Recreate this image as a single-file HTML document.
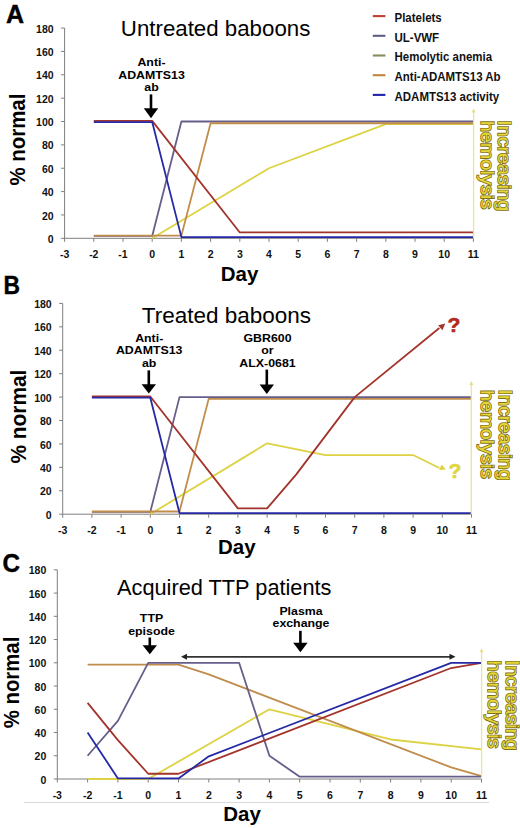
<!DOCTYPE html><html><head><meta charset="utf-8"><style>
html,body{margin:0;padding:0;background:#fff;width:520px;height:828px;overflow:hidden}
svg{display:block} text{font-family:"Liberation Sans", sans-serif}
.tk{font-size:10.5px;font-weight:700;fill:#111}
.ttl{font-size:22.8px;fill:#000}
.ann{font-size:12px;font-weight:700;fill:#000}
.lg{font-size:11.5px;font-weight:700;fill:#111}
.pl{font-size:25px;font-weight:700;fill:#000;stroke:#000;stroke-width:0.4}
.yl{font-size:21.5px;font-weight:700;fill:#000}
.dy{font-size:20.5px;font-weight:700;fill:#000}
.q{font-size:21px;font-weight:700;stroke-width:0.6;paint-order:stroke}
.hm{font-size:17.6px;font-weight:400;fill:#e6d738;stroke:#7f7119;stroke-width:1.6;paint-order:stroke}
</style></head><body>
<svg width="520" height="828" viewBox="0 0 520 828">
<line x1="64.60" y1="28.06" x2="64.60" y2="238.30" stroke="#7e7e7e" stroke-width="1"/>
<line x1="64.60" y1="238.30" x2="473.40" y2="238.30" stroke="#7e7e7e" stroke-width="1"/>
<line x1="61.10" y1="238.30" x2="64.60" y2="238.30" stroke="#7e7e7e" stroke-width="1"/>
<text x="53.60" y="242.90" text-anchor="end" class="tk">0</text>
<line x1="61.10" y1="214.94" x2="64.60" y2="214.94" stroke="#7e7e7e" stroke-width="1"/>
<text x="53.60" y="219.54" text-anchor="end" class="tk">20</text>
<line x1="61.10" y1="191.58" x2="64.60" y2="191.58" stroke="#7e7e7e" stroke-width="1"/>
<text x="53.60" y="196.18" text-anchor="end" class="tk">40</text>
<line x1="61.10" y1="168.22" x2="64.60" y2="168.22" stroke="#7e7e7e" stroke-width="1"/>
<text x="53.60" y="172.82" text-anchor="end" class="tk">60</text>
<line x1="61.10" y1="144.86" x2="64.60" y2="144.86" stroke="#7e7e7e" stroke-width="1"/>
<text x="53.60" y="149.46" text-anchor="end" class="tk">80</text>
<line x1="61.10" y1="121.50" x2="64.60" y2="121.50" stroke="#7e7e7e" stroke-width="1"/>
<text x="53.60" y="126.10" text-anchor="end" class="tk">100</text>
<line x1="61.10" y1="98.14" x2="64.60" y2="98.14" stroke="#7e7e7e" stroke-width="1"/>
<text x="53.60" y="102.74" text-anchor="end" class="tk">120</text>
<line x1="61.10" y1="74.78" x2="64.60" y2="74.78" stroke="#7e7e7e" stroke-width="1"/>
<text x="53.60" y="79.38" text-anchor="end" class="tk">140</text>
<line x1="61.10" y1="51.42" x2="64.60" y2="51.42" stroke="#7e7e7e" stroke-width="1"/>
<text x="53.60" y="56.02" text-anchor="end" class="tk">160</text>
<line x1="61.10" y1="28.06" x2="64.60" y2="28.06" stroke="#7e7e7e" stroke-width="1"/>
<text x="53.60" y="32.66" text-anchor="end" class="tk">180</text>
<line x1="64.60" y1="238.30" x2="64.60" y2="241.80" stroke="#7e7e7e" stroke-width="1"/>
<text x="64.60" y="257.80" text-anchor="middle" class="tk">-3</text>
<line x1="93.80" y1="238.30" x2="93.80" y2="241.80" stroke="#7e7e7e" stroke-width="1"/>
<text x="93.80" y="257.80" text-anchor="middle" class="tk">-2</text>
<line x1="123.00" y1="238.30" x2="123.00" y2="241.80" stroke="#7e7e7e" stroke-width="1"/>
<text x="123.00" y="257.80" text-anchor="middle" class="tk">-1</text>
<line x1="152.20" y1="238.30" x2="152.20" y2="241.80" stroke="#7e7e7e" stroke-width="1"/>
<text x="152.20" y="257.80" text-anchor="middle" class="tk">0</text>
<line x1="181.40" y1="238.30" x2="181.40" y2="241.80" stroke="#7e7e7e" stroke-width="1"/>
<text x="181.40" y="257.80" text-anchor="middle" class="tk">1</text>
<line x1="210.60" y1="238.30" x2="210.60" y2="241.80" stroke="#7e7e7e" stroke-width="1"/>
<text x="210.60" y="257.80" text-anchor="middle" class="tk">2</text>
<line x1="239.80" y1="238.30" x2="239.80" y2="241.80" stroke="#7e7e7e" stroke-width="1"/>
<text x="239.80" y="257.80" text-anchor="middle" class="tk">3</text>
<line x1="269.00" y1="238.30" x2="269.00" y2="241.80" stroke="#7e7e7e" stroke-width="1"/>
<text x="269.00" y="257.80" text-anchor="middle" class="tk">4</text>
<line x1="298.20" y1="238.30" x2="298.20" y2="241.80" stroke="#7e7e7e" stroke-width="1"/>
<text x="298.20" y="257.80" text-anchor="middle" class="tk">5</text>
<line x1="327.40" y1="238.30" x2="327.40" y2="241.80" stroke="#7e7e7e" stroke-width="1"/>
<text x="327.40" y="257.80" text-anchor="middle" class="tk">6</text>
<line x1="356.60" y1="238.30" x2="356.60" y2="241.80" stroke="#7e7e7e" stroke-width="1"/>
<text x="356.60" y="257.80" text-anchor="middle" class="tk">7</text>
<line x1="385.80" y1="238.30" x2="385.80" y2="241.80" stroke="#7e7e7e" stroke-width="1"/>
<text x="385.80" y="257.80" text-anchor="middle" class="tk">8</text>
<line x1="415.00" y1="238.30" x2="415.00" y2="241.80" stroke="#7e7e7e" stroke-width="1"/>
<text x="415.00" y="257.80" text-anchor="middle" class="tk">9</text>
<line x1="444.20" y1="238.30" x2="444.20" y2="241.80" stroke="#7e7e7e" stroke-width="1"/>
<text x="444.20" y="257.80" text-anchor="middle" class="tk">10</text>
<line x1="473.40" y1="238.30" x2="473.40" y2="241.80" stroke="#7e7e7e" stroke-width="1"/>
<text x="473.40" y="257.80" text-anchor="middle" class="tk">11</text>
<polyline points="152.20,238.30 269.00,168.22 385.80,124.07 473.40,124.07" fill="none" stroke="#dcd242" stroke-width="1.8" stroke-linejoin="round"/>
<polyline points="93.80,235.96 152.20,235.96 181.40,121.50 473.40,121.50" fill="none" stroke="#685e8a" stroke-width="1.8" stroke-linejoin="round"/>
<polyline points="93.80,235.61 181.40,235.61 210.60,123.25 473.40,123.25" fill="none" stroke="#c08c4c" stroke-width="1.8" stroke-linejoin="round"/>
<polyline points="93.80,120.92 152.20,120.92 239.80,232.46 473.40,232.46" fill="none" stroke="#a3342b" stroke-width="1.8" stroke-linejoin="round"/>
<polyline points="93.80,122.08 152.20,122.08 181.40,237.13 473.40,237.13" fill="none" stroke="#2529a6" stroke-width="1.8" stroke-linejoin="round"/>
<text x="6" y="23" class="pl">A</text>
<text x="120.8" y="36.3" class="ttl" textLength="189.5" lengthAdjust="spacingAndGlyphs">Untreated baboons</text>
<text transform="translate(25.3,185.6) rotate(-90)" class="yl" textLength="92" lengthAdjust="spacingAndGlyphs">% normal</text>
<text x="239.5" y="280.8" text-anchor="middle" class="dy">Day</text>
<text transform="translate(151.5,66.30) scale(1.03,0.9)" text-anchor="middle" class="ann">Anti-</text>
<text transform="translate(151.5,78.80) scale(1.03,0.9)" text-anchor="middle" class="ann">ADAMTS13</text>
<text transform="translate(151.5,91.30) scale(1.03,0.9)" text-anchor="middle" class="ann">ab</text>
<line x1="151.00" y1="94.40" x2="151.00" y2="109.30" stroke="#000" stroke-width="2.6"/>
<polygon points="143.80,108.30 158.20,108.30 151.00,118.30" fill="#000"/>
<line x1="372.8" y1="16.10" x2="385.4" y2="16.10" stroke="#c23e32" stroke-width="2.1"/>
<text transform="translate(394.5,22.00) scale(1,1.07)" class="lg">Platelets</text>
<line x1="372.8" y1="35.80" x2="385.4" y2="35.80" stroke="#5e5e84" stroke-width="2.1"/>
<text transform="translate(394.5,41.70) scale(1,1.07)" class="lg">UL-VWF</text>
<line x1="372.8" y1="55.50" x2="385.4" y2="55.50" stroke="#858e5e" stroke-width="2.1"/>
<text transform="translate(394.5,61.40) scale(1,1.07)" class="lg">Hemolytic anemia</text>
<line x1="372.8" y1="75.20" x2="385.4" y2="75.20" stroke="#c0843e" stroke-width="2.1"/>
<text transform="translate(394.5,81.10) scale(1,1.07)" class="lg">Anti-ADAMTS13 Ab</text>
<line x1="372.8" y1="94.90" x2="385.4" y2="94.90" stroke="#2224a8" stroke-width="2.1"/>
<text transform="translate(394.5,100.80) scale(1,1.07)" class="lg">ADAMTS13 activity</text>
<line x1="473.60" y1="111.50" x2="473.60" y2="238.30" stroke="#ece39a" stroke-width="1.3"/>
<polygon points="471.60,112.50 475.60,112.50 473.60,108.50" fill="#e6dd8a"/>
<text transform="translate(498.00,120.20) rotate(90)" class="hm" textLength="91" lengthAdjust="spacingAndGlyphs">Increasing</text>
<text transform="translate(481.20,120.70) rotate(90)" class="hm" textLength="88.6" lengthAdjust="spacingAndGlyphs">hemolysis</text>
<line x1="62.70" y1="303.42" x2="62.70" y2="514.20" stroke="#7e7e7e" stroke-width="1"/>
<line x1="62.70" y1="514.20" x2="471.50" y2="514.20" stroke="#7e7e7e" stroke-width="1"/>
<line x1="59.20" y1="514.20" x2="62.70" y2="514.20" stroke="#7e7e7e" stroke-width="1"/>
<text x="51.70" y="518.80" text-anchor="end" class="tk">0</text>
<line x1="59.20" y1="490.78" x2="62.70" y2="490.78" stroke="#7e7e7e" stroke-width="1"/>
<text x="51.70" y="495.38" text-anchor="end" class="tk">20</text>
<line x1="59.20" y1="467.36" x2="62.70" y2="467.36" stroke="#7e7e7e" stroke-width="1"/>
<text x="51.70" y="471.96" text-anchor="end" class="tk">40</text>
<line x1="59.20" y1="443.94" x2="62.70" y2="443.94" stroke="#7e7e7e" stroke-width="1"/>
<text x="51.70" y="448.54" text-anchor="end" class="tk">60</text>
<line x1="59.20" y1="420.52" x2="62.70" y2="420.52" stroke="#7e7e7e" stroke-width="1"/>
<text x="51.70" y="425.12" text-anchor="end" class="tk">80</text>
<line x1="59.20" y1="397.10" x2="62.70" y2="397.10" stroke="#7e7e7e" stroke-width="1"/>
<text x="51.70" y="401.70" text-anchor="end" class="tk">100</text>
<line x1="59.20" y1="373.68" x2="62.70" y2="373.68" stroke="#7e7e7e" stroke-width="1"/>
<text x="51.70" y="378.28" text-anchor="end" class="tk">120</text>
<line x1="59.20" y1="350.26" x2="62.70" y2="350.26" stroke="#7e7e7e" stroke-width="1"/>
<text x="51.70" y="354.86" text-anchor="end" class="tk">140</text>
<line x1="59.20" y1="326.84" x2="62.70" y2="326.84" stroke="#7e7e7e" stroke-width="1"/>
<text x="51.70" y="331.44" text-anchor="end" class="tk">160</text>
<line x1="59.20" y1="303.42" x2="62.70" y2="303.42" stroke="#7e7e7e" stroke-width="1"/>
<text x="51.70" y="308.02" text-anchor="end" class="tk">180</text>
<line x1="62.70" y1="514.20" x2="62.70" y2="517.70" stroke="#7e7e7e" stroke-width="1"/>
<text x="62.70" y="533.70" text-anchor="middle" class="tk">-3</text>
<line x1="91.90" y1="514.20" x2="91.90" y2="517.70" stroke="#7e7e7e" stroke-width="1"/>
<text x="91.90" y="533.70" text-anchor="middle" class="tk">-2</text>
<line x1="121.10" y1="514.20" x2="121.10" y2="517.70" stroke="#7e7e7e" stroke-width="1"/>
<text x="121.10" y="533.70" text-anchor="middle" class="tk">-1</text>
<line x1="150.30" y1="514.20" x2="150.30" y2="517.70" stroke="#7e7e7e" stroke-width="1"/>
<text x="150.30" y="533.70" text-anchor="middle" class="tk">0</text>
<line x1="179.50" y1="514.20" x2="179.50" y2="517.70" stroke="#7e7e7e" stroke-width="1"/>
<text x="179.50" y="533.70" text-anchor="middle" class="tk">1</text>
<line x1="208.70" y1="514.20" x2="208.70" y2="517.70" stroke="#7e7e7e" stroke-width="1"/>
<text x="208.70" y="533.70" text-anchor="middle" class="tk">2</text>
<line x1="237.90" y1="514.20" x2="237.90" y2="517.70" stroke="#7e7e7e" stroke-width="1"/>
<text x="237.90" y="533.70" text-anchor="middle" class="tk">3</text>
<line x1="267.10" y1="514.20" x2="267.10" y2="517.70" stroke="#7e7e7e" stroke-width="1"/>
<text x="267.10" y="533.70" text-anchor="middle" class="tk">4</text>
<line x1="296.30" y1="514.20" x2="296.30" y2="517.70" stroke="#7e7e7e" stroke-width="1"/>
<text x="296.30" y="533.70" text-anchor="middle" class="tk">5</text>
<line x1="325.50" y1="514.20" x2="325.50" y2="517.70" stroke="#7e7e7e" stroke-width="1"/>
<text x="325.50" y="533.70" text-anchor="middle" class="tk">6</text>
<line x1="354.70" y1="514.20" x2="354.70" y2="517.70" stroke="#7e7e7e" stroke-width="1"/>
<text x="354.70" y="533.70" text-anchor="middle" class="tk">7</text>
<line x1="383.90" y1="514.20" x2="383.90" y2="517.70" stroke="#7e7e7e" stroke-width="1"/>
<text x="383.90" y="533.70" text-anchor="middle" class="tk">8</text>
<line x1="413.10" y1="514.20" x2="413.10" y2="517.70" stroke="#7e7e7e" stroke-width="1"/>
<text x="413.10" y="533.70" text-anchor="middle" class="tk">9</text>
<line x1="442.30" y1="514.20" x2="442.30" y2="517.70" stroke="#7e7e7e" stroke-width="1"/>
<text x="442.30" y="533.70" text-anchor="middle" class="tk">10</text>
<line x1="471.50" y1="514.20" x2="471.50" y2="517.70" stroke="#7e7e7e" stroke-width="1"/>
<text x="471.50" y="533.70" text-anchor="middle" class="tk">11</text>
<polyline points="150.30,514.20 267.10,443.35 325.50,455.06 413.10,455.06 439.38,467.95" fill="none" stroke="#dcd242" stroke-width="1.8" stroke-linejoin="round"/>
<polyline points="91.90,511.86 150.30,511.86 179.50,397.10 471.50,397.10" fill="none" stroke="#685e8a" stroke-width="1.8" stroke-linejoin="round"/>
<polyline points="91.90,511.51 179.50,511.51 208.70,398.86 471.50,398.86" fill="none" stroke="#c08c4c" stroke-width="1.8" stroke-linejoin="round"/>
<polyline points="91.90,396.51 150.30,396.51 237.90,508.35 267.10,508.35 296.30,474.39 354.70,397.10 439.38,328.01" fill="none" stroke="#a3342b" stroke-width="1.8" stroke-linejoin="round"/>
<polyline points="91.90,397.69 150.30,397.69 179.50,513.03 471.50,513.03" fill="none" stroke="#2529a6" stroke-width="1.8" stroke-linejoin="round"/>
<text x="3.4" y="293.8" class="pl" textLength="16.5" lengthAdjust="spacingAndGlyphs">B</text>
<text x="141.8" y="322.6" class="ttl" textLength="169.2" lengthAdjust="spacingAndGlyphs">Treated baboons</text>
<text transform="translate(26.4,463.6) rotate(-90)" class="yl" textLength="94" lengthAdjust="spacingAndGlyphs">% normal</text>
<text x="236.8" y="553.6" text-anchor="middle" class="dy">Day</text>
<text transform="translate(149.2,341.70) scale(1.03,0.9)" text-anchor="middle" class="ann">Anti-</text>
<text transform="translate(149.2,354.30) scale(1.03,0.9)" text-anchor="middle" class="ann">ADAMTS13</text>
<text transform="translate(149.2,366.90) scale(1.03,0.9)" text-anchor="middle" class="ann">ab</text>
<line x1="148.80" y1="370.40" x2="148.80" y2="385.20" stroke="#000" stroke-width="2.6"/>
<polygon points="141.60,384.20 156.00,384.20 148.80,393.50" fill="#000"/>
<text transform="translate(267.5,341.70) scale(1.03,0.9)" text-anchor="middle" class="ann">GBR600</text>
<text transform="translate(267.5,354.40) scale(1.03,0.9)" text-anchor="middle" class="ann">or</text>
<text transform="translate(267.5,367.10) scale(1.03,0.9)" text-anchor="middle" class="ann">ALX-0681</text>
<line x1="266.80" y1="369.60" x2="266.80" y2="385.40" stroke="#000" stroke-width="2.6"/>
<polygon points="259.60,384.40 274.00,384.40 266.80,394.00" fill="#000"/>
<line x1="471.30" y1="384.00" x2="471.30" y2="514.20" stroke="#ece39a" stroke-width="1.3"/>
<polygon points="469.30,385.00 473.30,385.00 471.30,381.00" fill="#e6dd8a"/>
<text transform="translate(498.50,389.50) rotate(90)" class="hm" textLength="91" lengthAdjust="spacingAndGlyphs">Increasing</text>
<text transform="translate(480.50,390.00) rotate(90)" class="hm" textLength="88.6" lengthAdjust="spacingAndGlyphs">hemolysis</text>
<polygon points="445.30,323.60 442.33,330.26 438.17,325.13" fill="#a3342b"/>
<polygon points="445.80,469.60 439.10,469.90 441.54,464.42" fill="#dcd242"/>
<text x="447.6" y="331.8" class="q" fill="#b02a20" stroke="#b02a20">?</text>
<text x="448.4" y="477.6" class="q" fill="#e0d440" stroke="#e0d440">?</text>
<line x1="57.30" y1="569.84" x2="57.30" y2="779.00" stroke="#7e7e7e" stroke-width="1"/>
<line x1="57.30" y1="779.00" x2="481.50" y2="779.00" stroke="#7e7e7e" stroke-width="1"/>
<line x1="53.80" y1="779.00" x2="57.30" y2="779.00" stroke="#7e7e7e" stroke-width="1"/>
<text x="46.30" y="783.60" text-anchor="end" class="tk">0</text>
<line x1="53.80" y1="755.76" x2="57.30" y2="755.76" stroke="#7e7e7e" stroke-width="1"/>
<text x="46.30" y="760.36" text-anchor="end" class="tk">20</text>
<line x1="53.80" y1="732.52" x2="57.30" y2="732.52" stroke="#7e7e7e" stroke-width="1"/>
<text x="46.30" y="737.12" text-anchor="end" class="tk">40</text>
<line x1="53.80" y1="709.28" x2="57.30" y2="709.28" stroke="#7e7e7e" stroke-width="1"/>
<text x="46.30" y="713.88" text-anchor="end" class="tk">60</text>
<line x1="53.80" y1="686.04" x2="57.30" y2="686.04" stroke="#7e7e7e" stroke-width="1"/>
<text x="46.30" y="690.64" text-anchor="end" class="tk">80</text>
<line x1="53.80" y1="662.80" x2="57.30" y2="662.80" stroke="#7e7e7e" stroke-width="1"/>
<text x="46.30" y="667.40" text-anchor="end" class="tk">100</text>
<line x1="53.80" y1="639.56" x2="57.30" y2="639.56" stroke="#7e7e7e" stroke-width="1"/>
<text x="46.30" y="644.16" text-anchor="end" class="tk">120</text>
<line x1="53.80" y1="616.32" x2="57.30" y2="616.32" stroke="#7e7e7e" stroke-width="1"/>
<text x="46.30" y="620.92" text-anchor="end" class="tk">140</text>
<line x1="53.80" y1="593.08" x2="57.30" y2="593.08" stroke="#7e7e7e" stroke-width="1"/>
<text x="46.30" y="597.68" text-anchor="end" class="tk">160</text>
<line x1="53.80" y1="569.84" x2="57.30" y2="569.84" stroke="#7e7e7e" stroke-width="1"/>
<text x="46.30" y="574.44" text-anchor="end" class="tk">180</text>
<line x1="57.30" y1="779.00" x2="57.30" y2="782.50" stroke="#7e7e7e" stroke-width="1"/>
<text x="57.30" y="798.50" text-anchor="middle" class="tk">-3</text>
<line x1="87.60" y1="779.00" x2="87.60" y2="782.50" stroke="#7e7e7e" stroke-width="1"/>
<text x="87.60" y="798.50" text-anchor="middle" class="tk">-2</text>
<line x1="117.90" y1="779.00" x2="117.90" y2="782.50" stroke="#7e7e7e" stroke-width="1"/>
<text x="117.90" y="798.50" text-anchor="middle" class="tk">-1</text>
<line x1="148.20" y1="779.00" x2="148.20" y2="782.50" stroke="#7e7e7e" stroke-width="1"/>
<text x="148.20" y="798.50" text-anchor="middle" class="tk">0</text>
<line x1="178.50" y1="779.00" x2="178.50" y2="782.50" stroke="#7e7e7e" stroke-width="1"/>
<text x="178.50" y="798.50" text-anchor="middle" class="tk">1</text>
<line x1="208.80" y1="779.00" x2="208.80" y2="782.50" stroke="#7e7e7e" stroke-width="1"/>
<text x="208.80" y="798.50" text-anchor="middle" class="tk">2</text>
<line x1="239.10" y1="779.00" x2="239.10" y2="782.50" stroke="#7e7e7e" stroke-width="1"/>
<text x="239.10" y="798.50" text-anchor="middle" class="tk">3</text>
<line x1="269.40" y1="779.00" x2="269.40" y2="782.50" stroke="#7e7e7e" stroke-width="1"/>
<text x="269.40" y="798.50" text-anchor="middle" class="tk">4</text>
<line x1="299.70" y1="779.00" x2="299.70" y2="782.50" stroke="#7e7e7e" stroke-width="1"/>
<text x="299.70" y="798.50" text-anchor="middle" class="tk">5</text>
<line x1="330.00" y1="779.00" x2="330.00" y2="782.50" stroke="#7e7e7e" stroke-width="1"/>
<text x="330.00" y="798.50" text-anchor="middle" class="tk">6</text>
<line x1="360.30" y1="779.00" x2="360.30" y2="782.50" stroke="#7e7e7e" stroke-width="1"/>
<text x="360.30" y="798.50" text-anchor="middle" class="tk">7</text>
<line x1="390.60" y1="779.00" x2="390.60" y2="782.50" stroke="#7e7e7e" stroke-width="1"/>
<text x="390.60" y="798.50" text-anchor="middle" class="tk">8</text>
<line x1="420.90" y1="779.00" x2="420.90" y2="782.50" stroke="#7e7e7e" stroke-width="1"/>
<text x="420.90" y="798.50" text-anchor="middle" class="tk">9</text>
<line x1="451.20" y1="779.00" x2="451.20" y2="782.50" stroke="#7e7e7e" stroke-width="1"/>
<text x="451.20" y="798.50" text-anchor="middle" class="tk">10</text>
<line x1="481.50" y1="779.00" x2="481.50" y2="782.50" stroke="#7e7e7e" stroke-width="1"/>
<text x="481.50" y="798.50" text-anchor="middle" class="tk">11</text>
<polyline points="87.60,779.00 148.20,779.00 269.40,709.28 390.60,739.49 481.50,749.37" fill="none" stroke="#dcd242" stroke-width="1.8" stroke-linejoin="round"/>
<polyline points="87.60,664.54 178.50,664.54 208.80,674.42 451.20,767.38 481.50,776.10" fill="none" stroke="#c08c4c" stroke-width="1.8" stroke-linejoin="round"/>
<polyline points="87.60,755.76 117.90,720.90 148.20,662.80 239.10,662.80 269.40,755.76 299.70,776.68 481.50,776.68" fill="none" stroke="#685e8a" stroke-width="1.8" stroke-linejoin="round"/>
<polyline points="87.60,702.89 117.90,740.07 148.20,773.77 178.50,773.77 451.20,668.03 481.50,662.80" fill="none" stroke="#a3342b" stroke-width="1.8" stroke-linejoin="round"/>
<polyline points="87.60,732.52 117.90,778.42 178.50,778.42 208.80,756.34 451.20,662.80 481.50,662.80" fill="none" stroke="#2529a6" stroke-width="1.8" stroke-linejoin="round"/>
<text x="2.4" y="571.8" class="pl" textLength="17.5" lengthAdjust="spacingAndGlyphs">C</text>
<text x="117" y="594.6" class="ttl" textLength="214.5" lengthAdjust="spacingAndGlyphs">Acquired TTP patients</text>
<text transform="translate(19,728.2) rotate(-90)" class="yl" textLength="91.5" lengthAdjust="spacingAndGlyphs">% normal</text>
<text x="242" y="821.2" text-anchor="middle" class="dy">Day</text>
<text transform="translate(151.5,622.10) scale(1.03,0.9)" text-anchor="middle" class="ann">TTP</text>
<text transform="translate(151.5,634.60) scale(1.03,0.9)" text-anchor="middle" class="ann">episode</text>
<line x1="149.80" y1="637.50" x2="149.80" y2="646.20" stroke="#000" stroke-width="2.6"/>
<polygon points="142.60,645.20 157.00,645.20 149.80,654.20" fill="#000"/>
<text transform="translate(301,615.00) scale(1.03,0.9)" text-anchor="middle" class="ann">Plasma</text>
<text transform="translate(301,627.40) scale(1.03,0.9)" text-anchor="middle" class="ann">exchange</text>
<line x1="300.40" y1="630.80" x2="300.40" y2="643.70" stroke="#000" stroke-width="2.6"/>
<polygon points="293.20,642.70 307.60,642.70 300.40,652.30" fill="#000"/>
<line x1="184" y1="656.8" x2="452" y2="656.8" stroke="#333" stroke-width="1.8"/>
<polygon points="181,656.7 187,653.7 187,659.7" fill="#222"/>
<polygon points="455.5,656.7 449.5,653.7 449.5,659.7" fill="#222"/>
<line x1="481.60" y1="651.20" x2="481.60" y2="779.00" stroke="#ece39a" stroke-width="1.3"/>
<polygon points="479.60,652.20 483.60,652.20 481.60,648.20" fill="#e6dd8a"/>
<text transform="translate(506.00,660.00) rotate(90)" class="hm" textLength="90.5" lengthAdjust="spacingAndGlyphs">Increasing</text>
<text transform="translate(487.50,660.50) rotate(90)" class="hm" textLength="88" lengthAdjust="spacingAndGlyphs">hemolysis</text>
<line x1="24" y1="802.5" x2="489" y2="802.5" stroke="#d9d9d9" stroke-width="1.2"/>
</svg></body></html>
